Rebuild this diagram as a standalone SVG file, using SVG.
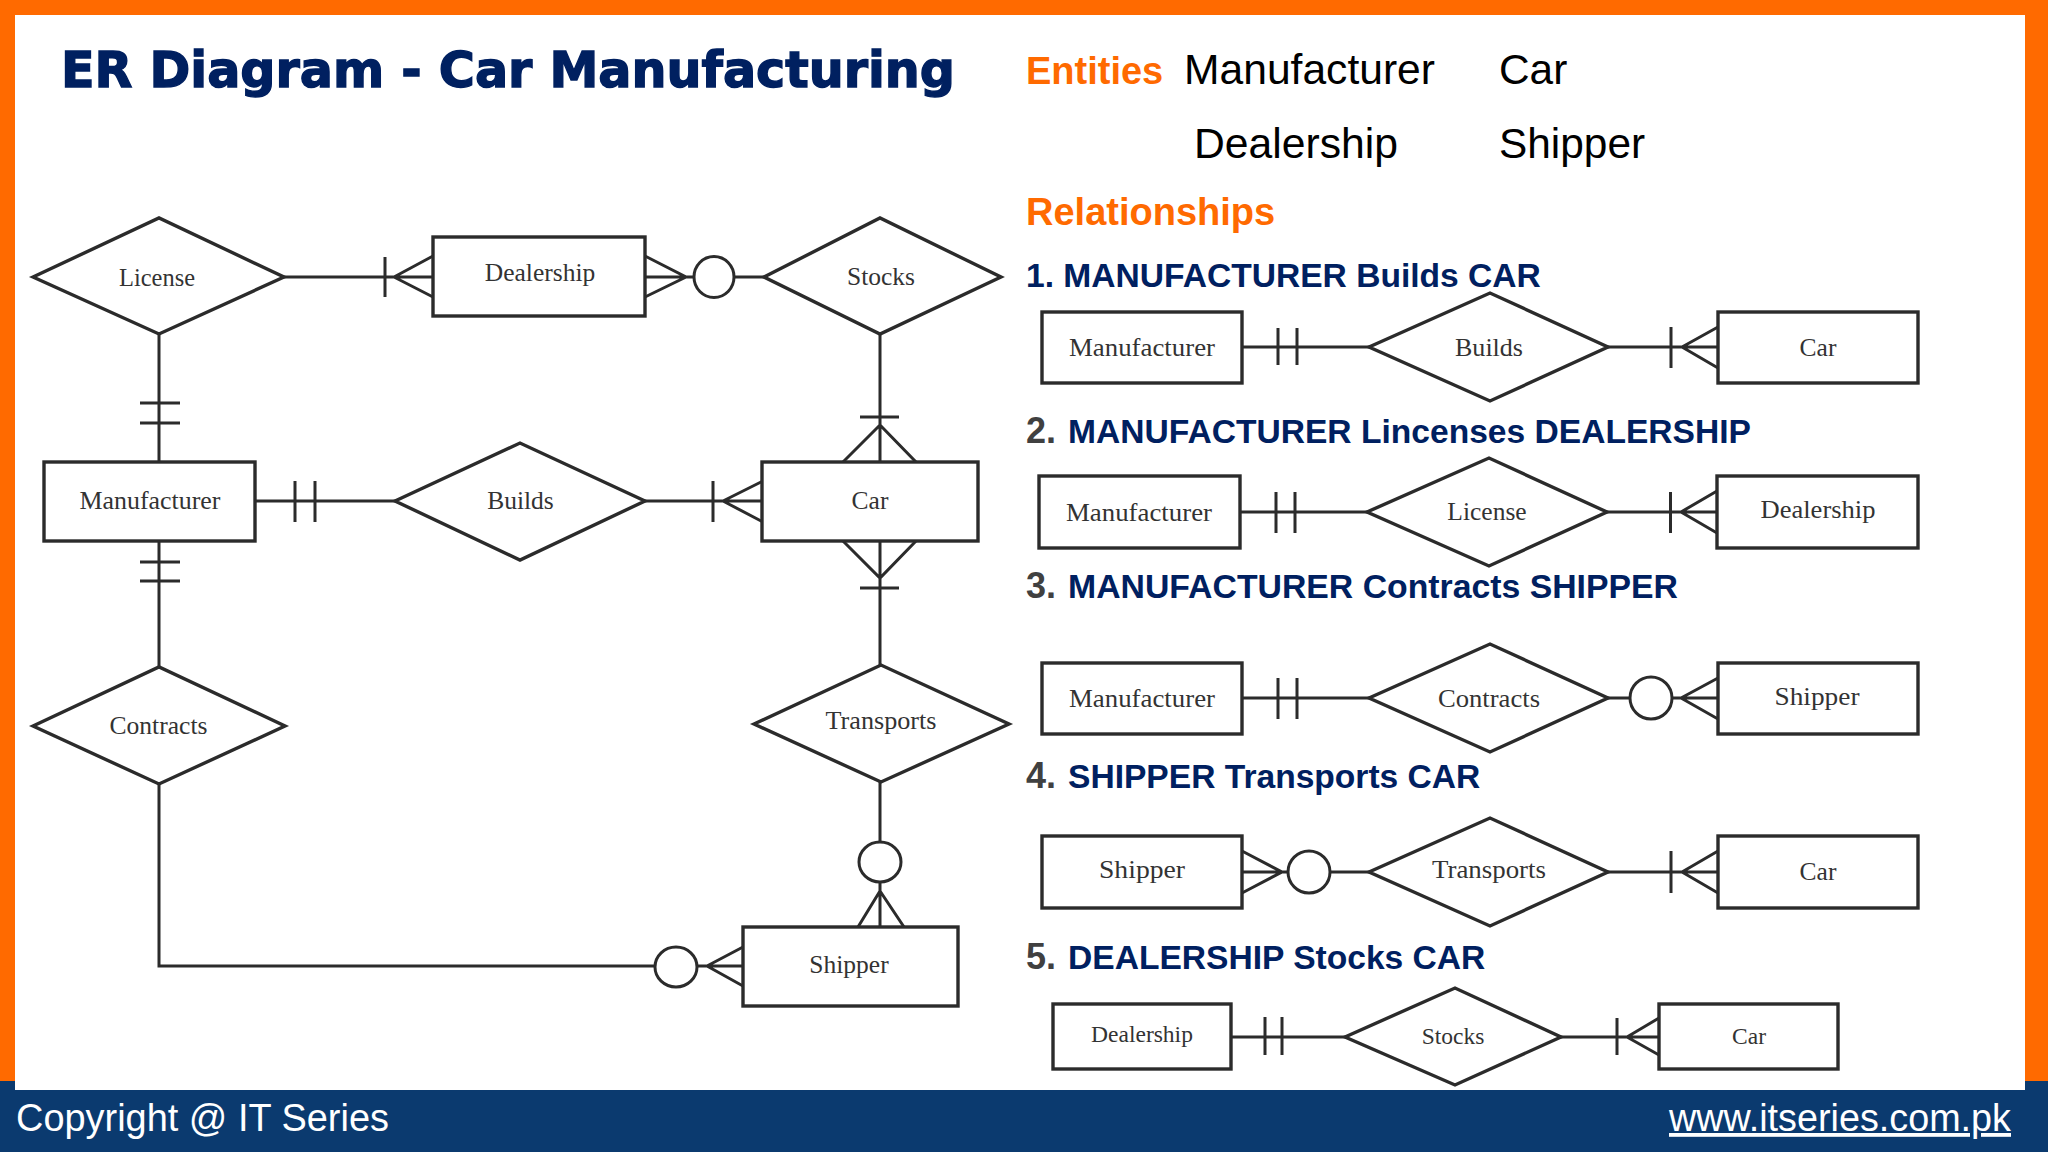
<svg xmlns="http://www.w3.org/2000/svg" width="2048" height="1152" viewBox="0 0 2048 1152">
<style>
.e{fill:#fff;stroke:#2b2b2b;stroke-width:3.4}
.c{fill:none;stroke:#2b2b2b;stroke-width:3;stroke-linejoin:miter}
.o{fill:#fff;stroke:#2b2b2b;stroke-width:3}
.l{font-family:"Liberation Serif",serif;font-size:25.5px;fill:#333;text-anchor:middle}
.s{font-size:23.5px}
.h{font-family:"Liberation Sans",Arial,sans-serif;font-weight:700;font-size:38px;fill:#ff6a00}
.b{font-family:"Liberation Sans",Arial,sans-serif;font-size:42.4px;fill:#000}
.r{font-family:"Liberation Sans",Arial,sans-serif;font-weight:700;font-size:33.6px;fill:#002060}
.n{fill:#404040;font-size:36px}
.f{font-family:"Liberation Sans",Arial,sans-serif;font-size:38px;fill:#fff}
</style>
<rect width="2048" height="1152" fill="#fff"/>
<g id="frame">
<rect width="2048" height="15" fill="#ff6a00"/>
<rect width="15" height="1082" fill="#ff6a00"/>
<rect x="2025" width="23" height="1082" fill="#ff6a00"/>
<rect y="1081" width="15" height="71" fill="#0b3a6f"/>
<rect x="2025" y="1081" width="23" height="71" fill="#0b3a6f"/>
<rect y="1090" width="2048" height="62" fill="#0b3a6f"/>
</g>
<g id="title"><text x="61" y="87" font-family="'DejaVu Sans',Verdana,sans-serif" font-weight="700" font-size="50" fill="#002060" stroke="#002060" stroke-width="1.4" textLength="894" lengthAdjust="spacingAndGlyphs">ER Diagram - Car Manufacturing</text></g>
<g id="entities-list">
<text class="h" x="1026" y="84">Entities</text>
<text class="b" x="1184" y="84" textLength="251" lengthAdjust="spacingAndGlyphs">Manufacturer</text>
<text class="b" x="1499" y="84">Car</text>
<text class="b" x="1194" y="158" textLength="204" lengthAdjust="spacingAndGlyphs">Dealership</text>
<text class="b" x="1499" y="158">Shipper</text>
<text class="h" x="1026" y="224.500">Relationships</text>
</g>
<g id="relationship-headings">
<text class="r" x="1026" y="287">1. MANUFACTURER Builds CAR</text>
<text class="r n" x="1026" y="443">2.</text><text class="r" x="1068" y="443" textLength="683" lengthAdjust="spacingAndGlyphs">MANUFACTURER Lincenses DEALERSHIP</text>
<text class="r n" x="1026" y="598">3.</text><text class="r" x="1068" y="598" textLength="610" lengthAdjust="spacingAndGlyphs">MANUFACTURER Contracts SHIPPER</text>
<text class="r n" x="1026" y="788">4.</text><text class="r" x="1068" y="788">SHIPPER Transports CAR</text>
<text class="r n" x="1026" y="968.500">5.</text><text class="r" x="1068" y="968.500">DEALERSHIP Stocks CAR</text>
</g>
<g id="connectors">
<path class="c" d="M284 277H433M385 257V297M394 277L433 256M394 277L433 297"/>
<path class="c" d="M645 277H693M645 256L686 277L645 297M735 277H764"/>
<ellipse class="o" cx="714" cy="277" rx="20" ry="20.500"/>
<path class="c" d="M880 334V462M860 417H899M880 425L843 462M880 425L916 462"/>
<path class="c" d="M159 334V462M140 403H180M140 423H180"/>
<path class="c" d="M255 501H395M295 481V522M315 481V522"/>
<path class="c" d="M645 501H763M713 481V522M723 501L763 481M723 501L763 522"/>
<path class="c" d="M880 541V665M860 588H899M843 541L880 578L916 541"/>
<path class="c" d="M159 541V667M140 562H180M140 581H180"/>
<path class="c" d="M880 782V842M880 882V927M880 891L858 927M880 891L904 927"/>
<ellipse class="o" cx="880" cy="862" rx="21" ry="20"/>
<path class="c" d="M159 784V966H655M697 966H743M707 966L743 947M707 966L743 986"/>
<ellipse class="o" cx="676" cy="967" rx="21" ry="20"/>
<path class="c" d="M1242 347H1370M1278 328V365M1297 328V365"/>
<path class="c" d="M1608 347H1718M1671 327V368M1682 347L1718 327M1682 347L1718 368"/>
<path class="c" d="M1240 512H1368M1276 492V533M1295 492V533"/>
<path class="c" d="M1607 512H1717M1670.500 492V533M1681 512L1717 491M1681 512L1717 533"/>
<path class="c" d="M1242 698H1370M1278 678V719M1297 678V719"/>
<path class="c" d="M1608 698H1630M1672 698H1718M1681 698L1718 678M1681 698L1718 719"/>
<ellipse class="o" cx="1651" cy="698" rx="21" ry="21"/>
<path class="c" d="M1242 872H1288M1242 851L1282 872L1242 893M1330 872H1370"/>
<ellipse class="o" cx="1309" cy="872" rx="21" ry="21"/>
<path class="c" d="M1608 872H1718M1671 851V893M1682 872L1718 851M1682 872L1718 893"/>
<path class="c" d="M1231 1037H1346M1265 1017V1055M1282 1017V1055"/>
<path class="c" d="M1561 1037H1659M1617 1018V1055M1627 1037L1659 1018M1627 1037L1659 1055"/>
</g>
<g id="main-license"><polygon class="e" points="33,277 159,218 284,277 159,334"/><text class="l" x="157" y="286" textLength="76" lengthAdjust="spacingAndGlyphs">License</text></g>
<g id="main-dealership"><rect class="e" x="433" y="237" width="212" height="79"/><text class="l" x="540" y="281">Dealership</text></g>
<g id="main-stocks"><polygon class="e" points="764,277 880,218 1001,277 880,334"/><text class="l" x="881" y="285">Stocks</text></g>
<g id="main-manufacturer"><rect class="e" x="44" y="462" width="211" height="79"/><text class="l" x="150" y="509" textLength="141" lengthAdjust="spacingAndGlyphs">Manufacturer</text></g>
<g id="main-builds"><polygon class="e" points="395,501 520,443 645,501 520,560"/><text class="l" x="520.500" y="509">Builds</text></g>
<g id="main-car"><rect class="e" x="762" y="462" width="216" height="79"/><text class="l" x="870" y="509">Car</text></g>
<g id="main-contracts"><polygon class="e" points="33,726 159,667 285,726 159,784"/><text class="l" x="158.500" y="734" textLength="98" lengthAdjust="spacingAndGlyphs">Contracts</text></g>
<g id="main-transports"><polygon class="e" points="754,724 881,665 1009,724 881,782"/><text class="l" x="881" y="729" textLength="111" lengthAdjust="spacingAndGlyphs">Transports</text></g>
<g id="main-shipper"><rect class="e" x="743" y="927" width="215" height="79"/><text class="l" x="849" y="973">Shipper</text></g>
<g id="r1-manufacturer"><rect class="e" x="1042" y="312" width="200" height="71"/><text class="l" x="1142" y="356" textLength="146" lengthAdjust="spacingAndGlyphs">Manufacturer</text></g>
<g id="r1-builds"><polygon class="e" points="1369,347 1490,293 1608,347 1490,401"/><text class="l" x="1489" y="356" textLength="68" lengthAdjust="spacingAndGlyphs">Builds</text></g>
<g id="r1-car"><rect class="e" x="1718" y="312" width="200" height="71"/><text class="l" x="1818" y="356">Car</text></g>
<g id="r2-manufacturer"><rect class="e" x="1039" y="476" width="201" height="72"/><text class="l" x="1139" y="520.500" textLength="146" lengthAdjust="spacingAndGlyphs">Manufacturer</text></g>
<g id="r2-license"><polygon class="e" points="1367,512 1489,458 1607,512 1489,566"/><text class="l" x="1487" y="520">License</text></g>
<g id="r2-dealership"><rect class="e" x="1717" y="476" width="201" height="72"/><text class="l" x="1818" y="518" textLength="115" lengthAdjust="spacingAndGlyphs">Dealership</text></g>
<g id="r3-manufacturer"><rect class="e" x="1042" y="663" width="200" height="71"/><text class="l" x="1142" y="707" textLength="146" lengthAdjust="spacingAndGlyphs">Manufacturer</text></g>
<g id="r3-contracts"><polygon class="e" points="1369,698 1490,644 1608,698 1490,752"/><text class="l" x="1489" y="707" textLength="102" lengthAdjust="spacingAndGlyphs">Contracts</text></g>
<g id="r3-shipper"><rect class="e" x="1718" y="663" width="200" height="71"/><text class="l" x="1817" y="705" textLength="85" lengthAdjust="spacingAndGlyphs">Shipper</text></g>
<g id="r4-shipper"><rect class="e" x="1042" y="836" width="200" height="72"/><text class="l" x="1142" y="878" textLength="86" lengthAdjust="spacingAndGlyphs">Shipper</text></g>
<g id="r4-transports"><polygon class="e" points="1369,872 1490,818 1608,872 1490,926"/><text class="l" x="1489" y="877.500" textLength="114" lengthAdjust="spacingAndGlyphs">Transports</text></g>
<g id="r4-car"><rect class="e" x="1718" y="836" width="200" height="72"/><text class="l" x="1818" y="880">Car</text></g>
<g id="r5-dealership"><rect class="e" x="1053" y="1004" width="178" height="65"/><text class="l s" x="1142" y="1042">Dealership</text></g>
<g id="r5-stocks"><polygon class="e" points="1345,1037 1455,988 1561,1037 1455,1085"/><text class="l s" x="1453" y="1044">Stocks</text></g>
<g id="r5-car"><rect class="e" x="1659" y="1004" width="179" height="65"/><text class="l s" x="1749" y="1044">Car</text></g>
<g id="footer">
<text class="f" x="16" y="1131" textLength="373" lengthAdjust="spacingAndGlyphs">Copyright @ IT Series</text>
<text class="f" x="1669" y="1131" textLength="342" lengthAdjust="spacingAndGlyphs" text-decoration="underline">www.itseries.com.pk</text>
</g>
</svg>
